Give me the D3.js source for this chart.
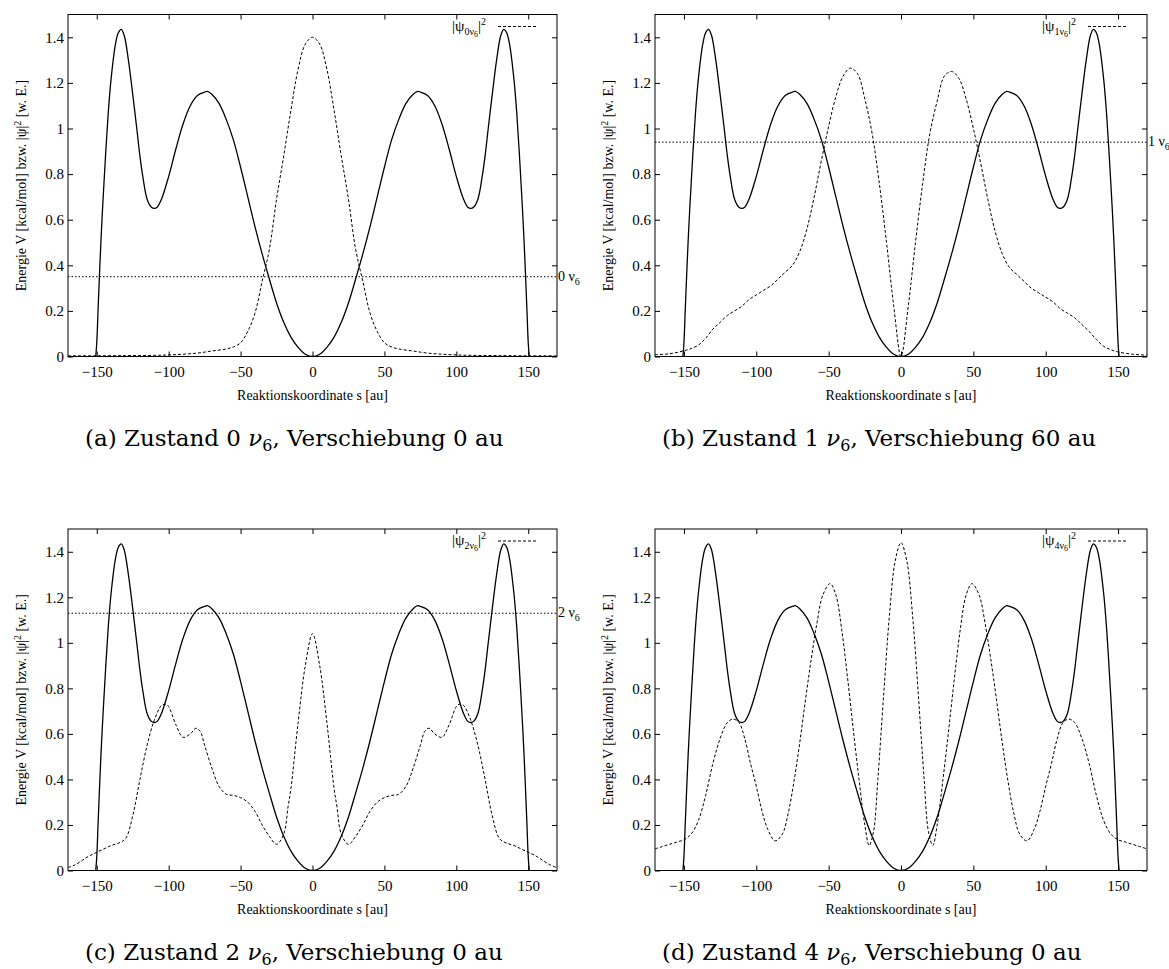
<!DOCTYPE html>
<html>
<head>
<meta charset="utf-8">
<script src="https://cdn.jsdelivr.net/npm/d3@7"></script>
<style>
  body { margin: 0; background: #fff; }
  svg { display: block; }
  text { font-family: "Liberation Serif", serif; }
  .tick text { font-size: 15px; fill: #000; }
  .tick line { stroke: #000; }
  text.caption { font-family: "DejaVu Serif", serif; font-size: 23px; }
</style>
</head>
<body>
<svg width="1169" height="969"></svg>
<script>
// axis ticks
const sTicks = [-150, -100, -50, 0, 50, 100, 150];
const vTicks = [0, 0.2, 0.4, 0.6, 0.8, 1, 1.2, 1.4];

// potential V(s), same in every panel
const potS = [-153, -151, -150, -149, -147, -145, -142, -140, -137, -135, -133, -131, -128, -125, -122, -120, -118, -115, -112, -110, -108, -105, -100, -95, -90, -85, -80, -75, -73, -70, -65, -60, -55, -50, -45, -40, -35, -30, -25, -20, -15, -10, -5, 0,
  5, 10, 15, 20, 25, 30, 35, 40, 45, 50, 55, 60, 65, 70, 73, 75, 80, 85, 90, 95, 100, 105, 108, 110, 112, 115, 118, 120, 122, 125, 128, 131, 133, 135, 137, 140, 142, 145, 147, 149, 150, 151, 153];
const potV = [-0.4, -0.03, 0.06, 0.22, 0.52, 0.76, 1.07, 1.22, 1.37, 1.42, 1.435, 1.41, 1.30, 1.15, 0.99, 0.88, 0.79, 0.69, 0.655, 0.65, 0.655, 0.69, 0.79, 0.91, 1.02, 1.10, 1.145, 1.16, 1.163, 1.15, 1.11, 1.04, 0.95, 0.83, 0.70, 0.57, 0.45, 0.34, 0.235, 0.15, 0.085, 0.04, 0.01, 0,
  0.01, 0.04, 0.085, 0.15, 0.235, 0.34, 0.45, 0.57, 0.70, 0.83, 0.95, 1.04, 1.11, 1.15, 1.163, 1.16, 1.145, 1.10, 1.02, 0.91, 0.79, 0.69, 0.655, 0.65, 0.655, 0.69, 0.79, 0.88, 0.99, 1.15, 1.30, 1.41, 1.435, 1.42, 1.37, 1.22, 1.07, 0.76, 0.52, 0.22, 0.06, -0.03, -0.4];

// |psi_0|^2
const psi0S = [-170, -150, -130, -110, -100, -90, -80, -70, -60, -55, -50, -45, -40, -35, -30, -25, -20, -15, -10, -5, 0,
  5, 10, 15, 20, 25, 30, 35, 40, 45, 50, 55, 60, 70, 80, 90, 100, 110, 130, 150, 170];
const psi0V = [0.003, 0.003, 0.004, 0.005, 0.007, 0.01, 0.015, 0.024, 0.033, 0.042, 0.06, 0.11, 0.19, 0.33, 0.47, 0.69, 0.88, 1.08, 1.26, 1.37, 1.40,
  1.37, 1.26, 1.08, 0.88, 0.69, 0.47, 0.33, 0.19, 0.11, 0.06, 0.042, 0.033, 0.024, 0.015, 0.01, 0.007, 0.005, 0.004, 0.003, 0.003];

// |psi_1|^2
const psi1S = [-170, -160, -150, -145, -140, -135, -130, -125, -120, -115, -110, -105, -100, -95, -90, -85, -80, -75, -70, -65, -60, -55, -50, -45, -40, -35, -30, -25, -20, -15, -10, -5, 0,
  5, 10, 15, 20, 25, 30, 35, 40, 45, 50, 55, 60, 65, 70, 75, 80, 85, 90, 95, 100, 105, 110, 115, 120, 125, 130, 135, 140, 145, 150, 160, 170];
const psi1V = [0.008, 0.012, 0.025, 0.035, 0.05, 0.08, 0.12, 0.15, 0.18, 0.20, 0.22, 0.25, 0.27, 0.29, 0.31, 0.34, 0.37, 0.40, 0.46, 0.56, 0.70, 0.86, 1.01, 1.14, 1.23, 1.265, 1.24, 1.13, 0.98, 0.76, 0.50, 0.22, 0.0,
  0.22, 0.50, 0.76, 0.98, 1.12, 1.23, 1.25, 1.22, 1.13, 1.00, 0.85, 0.69, 0.55, 0.45, 0.39, 0.36, 0.33, 0.30, 0.28, 0.26, 0.24, 0.21, 0.19, 0.17, 0.14, 0.11, 0.075, 0.045, 0.03, 0.02, 0.01, 0.006];

// |psi_2|^2
const psi2S = [-170, -165, -160, -155, -150, -145, -140, -135, -130, -125, -120, -115, -110, -105, -102, -100, -95, -90, -85, -81, -78, -75, -70, -65, -60, -55, -50, -45, -40, -35, -30, -25, -20, -17, -15, -10, -5, 0,
  5, 10, 15, 17, 20, 25, 30, 35, 40, 45, 50, 55, 60, 65, 70, 75, 78, 81, 85, 90, 95, 100, 102, 105, 110, 115, 120, 125, 130, 135, 140, 145, 150, 155, 160, 165, 170];
const psi2V = [0.013, 0.025, 0.045, 0.065, 0.08, 0.095, 0.11, 0.12, 0.14, 0.24, 0.40, 0.55, 0.66, 0.725, 0.73, 0.72, 0.64, 0.585, 0.60, 0.625, 0.61, 0.55, 0.45, 0.37, 0.335, 0.33, 0.32, 0.30, 0.26, 0.20, 0.15, 0.115, 0.16, 0.28, 0.36, 0.65, 0.90, 1.04,
  0.90, 0.65, 0.36, 0.28, 0.16, 0.115, 0.15, 0.20, 0.26, 0.30, 0.32, 0.33, 0.335, 0.37, 0.45, 0.55, 0.61, 0.625, 0.60, 0.585, 0.64, 0.72, 0.73, 0.725, 0.66, 0.55, 0.40, 0.24, 0.14, 0.12, 0.11, 0.095, 0.08, 0.065, 0.045, 0.025, 0.013];

// |psi_4|^2
const psi4S = [-170, -165, -160, -155, -150, -145, -140, -135, -130, -125, -120, -116, -112, -108, -104, -100, -96, -92, -87, -82, -78, -74, -70, -66, -62, -58, -54, -49, -45, -41, -37, -33, -29, -25, -22, -19, -16, -12, -8, -4, 0,
  4, 8, 12, 16, 19, 22, 25, 29, 33, 37, 41, 45, 49, 54, 58, 62, 66, 70, 74, 78, 82, 87, 92, 96, 100, 104, 108, 112, 116, 120, 125, 130, 135, 140, 145, 150, 155, 160, 165, 170];
const psi4V = [0.095, 0.105, 0.115, 0.125, 0.135, 0.16, 0.22, 0.33, 0.47, 0.58, 0.65, 0.665, 0.65, 0.58, 0.47, 0.37, 0.26, 0.18, 0.13, 0.16, 0.25, 0.39, 0.56, 0.75, 0.93, 1.09, 1.21, 1.26, 1.21, 1.06, 0.85, 0.62, 0.40, 0.20, 0.11, 0.17, 0.40, 0.77, 1.12, 1.36, 1.44,
  1.36, 1.12, 0.77, 0.40, 0.17, 0.11, 0.20, 0.40, 0.62, 0.85, 1.06, 1.21, 1.26, 1.21, 1.09, 0.93, 0.75, 0.56, 0.39, 0.25, 0.16, 0.13, 0.18, 0.26, 0.37, 0.47, 0.58, 0.65, 0.665, 0.65, 0.58, 0.47, 0.33, 0.22, 0.16, 0.135, 0.125, 0.115, 0.105, 0.095];

const stateNums = ["0", "1", "2", "4"];
const levels = [0.35, 0.94, 1.13, null];
const shifts = ["0", "60", "0", "0"];
const panelLetters = ["a", "b", "c", "d"];
const psiS = [psi0S, psi1S, psi2S, psi4S];
const psiV = [psi0V, psi1V, psi2V, psi4V];

// panel boxes
const boxes = [
  { x0: 68, x1: 557, y0: 14.5, y1: 356.5, cap: 85 },
  { x0: 655, x1: 1147, y0: 14.5, y1: 356.5, cap: 662 },
  { x0: 68, x1: 557, y0: 529, y1: 870.5, cap: 85 },
  { x0: 655, x1: 1147, y0: 529, y1: 870.5, cap: 662 }
];

const svg = d3.select("svg");

boxes.forEach((b, i) => {
  const x = d3.scaleLinear().domain([-170, 170]).range([b.x0, b.x1]);
  const y = d3.scaleLinear().domain([0, 1.5]).range([b.y1, b.y0]);
  const g = svg.append("g");

  g.append("clipPath").attr("id", "clip" + i)
    .append("rect")
    .attr("x", b.x0).attr("y", b.y0)
    .attr("width", b.x1 - b.x0).attr("height", b.y1 - b.y0);

  // axes, ticks pointing inward
  g.append("g").attr("transform", `translate(0,${b.y1})`)
    .call(d3.axisBottom(x).tickValues(sTicks).tickSizeInner(-5).tickSizeOuter(0).tickPadding(10))
    .call(a => a.select(".domain").remove());
  g.append("g").attr("transform", `translate(0,${b.y0})`)
    .call(d3.axisTop(x).tickValues(sTicks).tickSizeInner(-5).tickSizeOuter(0).tickFormat(""))
    .call(a => a.select(".domain").remove());
  g.append("g").attr("transform", `translate(${b.x0},0)`)
    .call(d3.axisLeft(y).tickValues(vTicks).tickSizeInner(-5).tickSizeOuter(0).tickPadding(4).tickFormat(d3.format("~g")))
    .call(a => a.select(".domain").remove());
  g.append("g").attr("transform", `translate(${b.x1},0)`)
    .call(d3.axisRight(y).tickValues(vTicks).tickSizeInner(-5).tickSizeOuter(0).tickFormat(""))
    .call(a => a.select(".domain").remove());

  const plot = g.append("g").attr("clip-path", `url(#clip${i})`);
  const line = d3.line().curve(d3.curveCatmullRom.alpha(0.5));

  // energy level
  if (levels[i] !== null) {
    plot.append("line")
      .attr("x1", b.x0).attr("x2", b.x1)
      .attr("y1", y(levels[i])).attr("y2", y(levels[i]))
      .attr("stroke", "#000").attr("stroke-width", 1)
      .attr("stroke-dasharray", "1.5,2");
    const lt = g.append("text")
      .attr("x", b.x1 + 1).attr("y", y(levels[i]) + 4)
      .attr("font-size", 14);
    lt.append("tspan").text(stateNums[i] + " \u03bd");
    lt.append("tspan").attr("dy", 4).attr("font-size", 10).text("6");
  }

  // potential
  plot.append("path")
    .attr("d", line(potS.map((s, k) => [x(s), y(potV[k])])))
    .attr("fill", "none").attr("stroke", "#000").attr("stroke-width", 1.3);

  // probability density
  plot.append("path")
    .attr("d", line(psiS[i].map((s, k) => [x(s), y(psiV[i][k])])))
    .attr("fill", "none").attr("stroke", "#000").attr("stroke-width", 1)
    .attr("stroke-dasharray", "3,2");

  // frame
  g.append("rect")
    .attr("x", b.x0).attr("y", b.y0)
    .attr("width", b.x1 - b.x0).attr("height", b.y1 - b.y0)
    .attr("fill", "none").attr("stroke", "#000").attr("stroke-width", 1);

  // legend
  const lg = g.append("text")
    .attr("x", b.x1 - 105).attr("y", b.y0 + 16)
    .attr("font-size", 15);
  lg.append("tspan").text("|\u03c8");
  lg.append("tspan").attr("dy", 4).attr("font-size", 10).text(stateNums[i] + "\u03bd");
  lg.append("tspan").attr("dy", 2).attr("font-size", 8).text("6");
  lg.append("tspan").attr("dy", -6).attr("font-size", 15).text("|");
  lg.append("tspan").attr("dy", -6).attr("font-size", 10).text("2");
  g.append("line")
    .attr("x1", b.x1 - 59).attr("x2", b.x1 - 19)
    .attr("y1", b.y0 + 12).attr("y2", b.y0 + 12)
    .attr("stroke", "#000").attr("stroke-width", 1).attr("stroke-dasharray", "3,2");

  // x label
  g.append("text")
    .attr("x", (b.x0 + b.x1) / 2).attr("y", b.y1 + 43)
    .attr("text-anchor", "middle")
    .attr("font-size", 14)
    .text("Reaktionskoordinate s [au]");

  // y label
  const yl = g.append("text")
    .attr("transform", `translate(${b.x0 - 42},${(b.y0 + b.y1) / 2}) rotate(-90)`)
    .attr("text-anchor", "middle")
    .attr("font-size", 14);
  yl.append("tspan").text("Energie V [kcal/mol] bzw. |\u03c8|");
  yl.append("tspan").attr("dy", -5).attr("font-size", 10).text("2");
  yl.append("tspan").attr("dy", 5).text(" [w. E.]");

  // caption
  const cp = g.append("text").attr("class", "caption")
    .attr("x", b.cap).attr("y", b.y1 + 89);
  cp.append("tspan").text(`(${panelLetters[i]}) Zustand ${stateNums[i]} `);
  cp.append("tspan").attr("font-style", "italic").text("\u03bd");
  cp.append("tspan").attr("dy", 5).attr("font-size", 16).text("6");
  cp.append("tspan").attr("dy", -5).text(`, Verschiebung ${shifts[i]} au`);
});
</script>
</body>
</html>
